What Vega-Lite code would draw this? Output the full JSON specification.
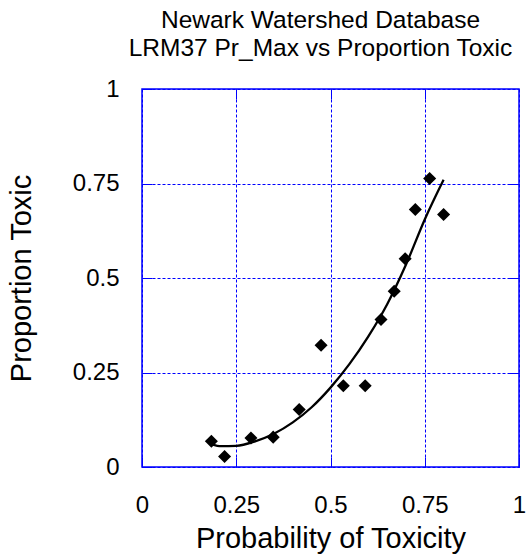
{
  "$schema": "https://vega.github.io/schema/vega-lite/v6.json",
  "autosize": {"type": "none"},
  "padding": {"left": 142, "top": 89, "right": 7, "bottom": 91},
  "width": 377,
  "height": 378,
  "background": "white",
  "config": {
    "font": "Liberation Sans",
    "view": {"stroke": "#0000ff", "strokeWidth": 1.5}
  },
  "title": {
    "text": ["Newark Watershed Database", "LRM37 Pr_Max vs Proportion Toxic"],
    "fontSize": 24.5,
    "fontWeight": "normal",
    "font": "Liberation Sans",
    "color": "black",
    "anchor": "middle",
    "frame": "group",
    "dx": -10,
    "lineHeight": 28,
    "offset": 16
  },
  "datasets": {
    "pts": [
      {"p": 0.184, "t": 0.068},
      {"p": 0.219, "t": 0.028},
      {"p": 0.289, "t": 0.077},
      {"p": 0.348, "t": 0.079},
      {"p": 0.417, "t": 0.152},
      {"p": 0.475, "t": 0.322},
      {"p": 0.534, "t": 0.215},
      {"p": 0.592, "t": 0.215},
      {"p": 0.634, "t": 0.390},
      {"p": 0.669, "t": 0.465},
      {"p": 0.698, "t": 0.551},
      {"p": 0.725, "t": 0.681},
      {"p": 0.763, "t": 0.763},
      {"p": 0.800, "t": 0.668}
    ],
    "fit": [
      {"p": 0.185, "t": 0.060},
      {"p": 0.21, "t": 0.055},
      {"p": 0.25, "t": 0.056},
      {"p": 0.30, "t": 0.068},
      {"p": 0.35, "t": 0.088},
      {"p": 0.40, "t": 0.118},
      {"p": 0.45, "t": 0.158},
      {"p": 0.50, "t": 0.210},
      {"p": 0.55, "t": 0.272},
      {"p": 0.60, "t": 0.345},
      {"p": 0.65, "t": 0.430},
      {"p": 0.70, "t": 0.535},
      {"p": 0.75, "t": 0.655},
      {"p": 0.80, "t": 0.760}
    ]
  },
  "resolve": {"axis": {"x": "independent", "y": "independent"}},
  "layer": [
    {
      "data": {"name": "pts"},
      "mark": {"type": "point", "shape": "diamond", "filled": true, "color": "black", "size": 170, "opacity": 1},
      "encoding": {
        "x": {
          "field": "p", "type": "quantitative",
          "scale": {"domain": [0, 1], "nice": false, "zero": false},
          "axis": {
            "values": [0, 0.25, 0.5, 0.75, 1], "format": ".2~f",
            "title": "Probability of Toxicity",
            "titleFontSize": 29, "titleFontWeight": "normal", "titleColor": "black", "titlePadding": 7,
            "labelFontSize": 24, "labelColor": "black", "labelPadding": 36,
            "domain": false, "ticks": true, "tickSize": -10, "tickColor": "#0000ff",
            "grid": true, "gridColor": "#0000ff", "gridDash": [3, 2], "gridWidth": 1, "gridOpacity": 1,
            "labelFlush": false
          }
        },
        "y": {
          "field": "t", "type": "quantitative",
          "scale": {"domain": [0, 1], "nice": false, "zero": false},
          "axis": {
            "values": [0, 0.25, 0.5, 0.75, 1], "format": ".2~f",
            "title": "Proportion Toxic",
            "titleFontSize": 29, "titleFontWeight": "normal", "titleColor": "black", "titlePadding": 36,
            "labelFontSize": 24, "labelColor": "black", "labelPadding": 33,
            "domain": false, "ticks": true, "tickSize": -10, "tickColor": "#0000ff",
            "grid": true, "gridColor": "#0000ff", "gridDash": [3, 2], "gridWidth": 1, "gridOpacity": 1,
            "labelFlush": false
          }
        }
      }
    },
    {
      "data": {"name": "fit"},
      "mark": {"type": "line", "color": "black", "strokeWidth": 2.3, "interpolate": "monotone"},
      "encoding": {
        "x": {
          "field": "p", "type": "quantitative",
          "scale": {"domain": [0, 1], "nice": false, "zero": false},
          "axis": {"orient": "top", "values": [0.25, 0.5, 0.75], "labels": false, "title": null, "domain": false, "grid": false, "tickSize": -10, "tickColor": "#0000ff"}
        },
        "y": {
          "field": "t", "type": "quantitative",
          "scale": {"domain": [0, 1], "nice": false, "zero": false},
          "axis": {"orient": "right", "values": [0.25, 0.5, 0.75], "labels": false, "title": null, "domain": false, "grid": false, "tickSize": -10, "tickColor": "#0000ff"}
        }
      }
    }
  ]
}
